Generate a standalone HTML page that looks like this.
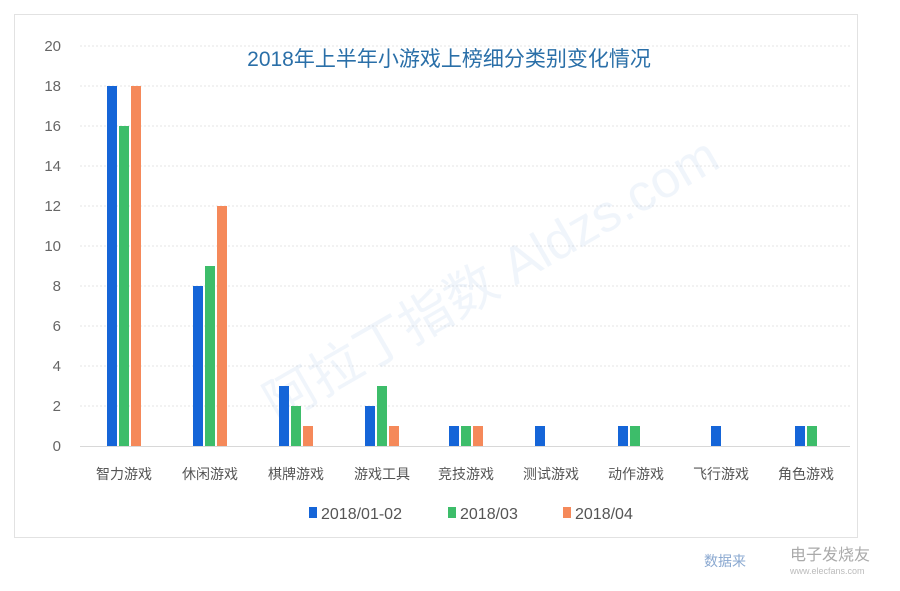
<!DOCTYPE html>
<html><head><meta charset="utf-8"><style>
body{margin:0;background:#fff;width:900px;height:586px;overflow:hidden;font-family:"Liberation Sans","Noto Sans CJK SC",sans-serif}
</style></head><body>
<svg width="900" height="586" xmlns="http://www.w3.org/2000/svg" font-family="Liberation Sans, Noto Sans CJK SC, sans-serif">
<rect x="14.5" y="14.5" width="843" height="523" fill="#fff" stroke="#e2e2e2"/>
<g stroke="#e6e6e6" stroke-dasharray="2,2">
<line x1="80" x2="850" y1="46" y2="46"/><line x1="80" x2="850" y1="86" y2="86"/><line x1="80" x2="850" y1="126" y2="126"/><line x1="80" x2="850" y1="166" y2="166"/><line x1="80" x2="850" y1="206" y2="206"/><line x1="80" x2="850" y1="246" y2="246"/><line x1="80" x2="850" y1="286" y2="286"/><line x1="80" x2="850" y1="326" y2="326"/><line x1="80" x2="850" y1="366" y2="366"/><line x1="80" x2="850" y1="406" y2="406"/>
</g>
<line x1="80" x2="850" y1="446.5" y2="446.5" stroke="#d8d8d8"/>
<g fill="#666" font-size="15" text-anchor="end">
<text x="61" y="51">20</text><text x="61" y="91">18</text><text x="61" y="131">16</text><text x="61" y="171">14</text><text x="61" y="211">12</text><text x="61" y="251">10</text><text x="61" y="291">8</text><text x="61" y="331">6</text><text x="61" y="371">4</text><text x="61" y="411">2</text><text x="61" y="451">0</text>
</g>
<text x="449" y="66" text-anchor="middle" font-size="21" fill="#2a6fa8">2018年上半年小游戏上榜细分类别变化情况</text>
<text x="480" y="300" text-anchor="middle" font-size="52" fill="#1565c0" opacity="0.06" transform="rotate(-30 480 260)">阿拉丁指数 Aldzs.com</text>
<g id="bars">
<rect x="107" y="86" width="10" height="360" fill="#1565d8"/><rect x="119" y="126" width="10" height="320" fill="#3dbd6a"/><rect x="131" y="86" width="10" height="360" fill="#f5895a"/>
<rect x="193" y="286" width="10" height="160" fill="#1565d8"/><rect x="205" y="266" width="10" height="180" fill="#3dbd6a"/><rect x="217" y="206" width="10" height="240" fill="#f5895a"/>
<rect x="279" y="386" width="10" height="60" fill="#1565d8"/><rect x="291" y="406" width="10" height="40" fill="#3dbd6a"/><rect x="303" y="426" width="10" height="20" fill="#f5895a"/>
<rect x="365" y="406" width="10" height="40" fill="#1565d8"/><rect x="377" y="386" width="10" height="60" fill="#3dbd6a"/><rect x="389" y="426" width="10" height="20" fill="#f5895a"/>
<rect x="449" y="426" width="10" height="20" fill="#1565d8"/><rect x="461" y="426" width="10" height="20" fill="#3dbd6a"/><rect x="473" y="426" width="10" height="20" fill="#f5895a"/>
<rect x="535" y="426" width="10" height="20" fill="#1565d8"/>
<rect x="618" y="426" width="10" height="20" fill="#1565d8"/><rect x="630" y="426" width="10" height="20" fill="#3dbd6a"/>
<rect x="711" y="426" width="10" height="20" fill="#1565d8"/>
<rect x="795" y="426" width="10" height="20" fill="#1565d8"/><rect x="807" y="426" width="10" height="20" fill="#3dbd6a"/>
</g>
<g fill="#555" font-size="14" text-anchor="middle">
<text x="124" y="479">智力游戏</text><text x="210" y="479">休闲游戏</text><text x="296" y="479">棋牌游戏</text><text x="382" y="479">游戏工具</text><text x="466" y="479">竞技游戏</text><text x="551" y="479">测试游戏</text><text x="636" y="479">动作游戏</text><text x="721" y="479">飞行游戏</text><text x="806" y="479">角色游戏</text>
</g>
<g font-size="16" fill="#555">
<rect x="309" y="507" width="8" height="11" fill="#1565d8"/><text x="321" y="519">2018/01-02</text>
<rect x="448" y="507" width="8" height="11" fill="#3dbd6a"/><text x="460" y="519">2018/03</text>
<rect x="563" y="507" width="8" height="11" fill="#f5895a"/><text x="575" y="519">2018/04</text>
</g>
<text x="704" y="566" font-size="14" fill="#8aa8d0">数据来</text>
<text x="790" y="560" font-size="16" fill="#aaa">电子发烧友</text>
<text x="790" y="574" font-size="9" fill="#bbb">www.elecfans.com</text>
</svg>
</body></html>
